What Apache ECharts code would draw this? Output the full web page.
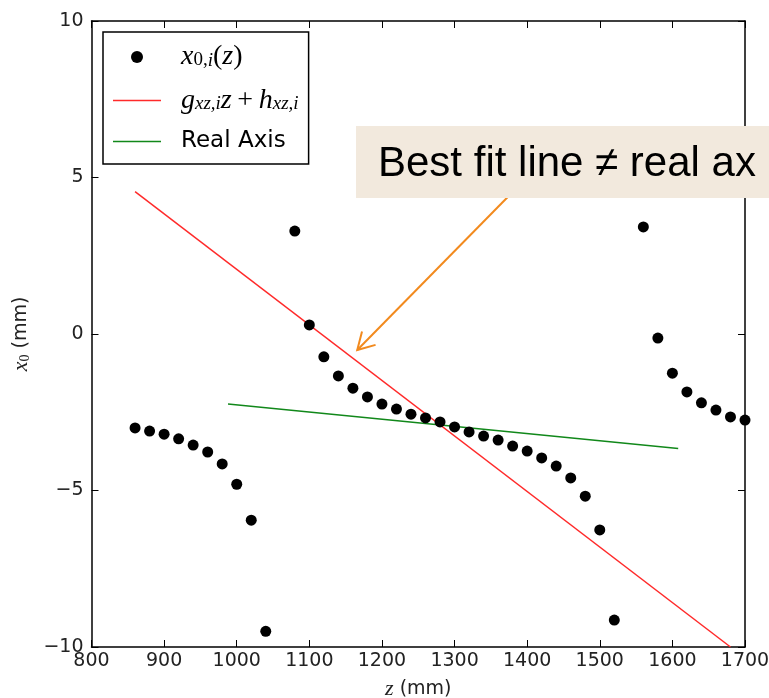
<!DOCTYPE html>
<html>
<head>
<meta charset="utf-8">
<script src="https://cdn.jsdelivr.net/npm/echarts@6/dist/echarts.min.js"></script>
<style>
html, body { margin: 0; padding: 0; background: #fff; }
#chart { width: 769px; height: 698px; }
</style>
</head>
<body>
<div id="chart"></div>
<script>
// x0,i(z) measured points
const zPoints = [860, 880, 900, 920, 940, 960, 980, 1000, 1020, 1040,
    1080, 1100, 1120, 1140, 1160, 1180, 1200, 1220, 1240, 1260, 1280, 1300,
    1320, 1340, 1360, 1380, 1400, 1420, 1440, 1460, 1480, 1500, 1520,
    1560, 1580, 1600, 1620, 1640, 1660, 1680, 1700];
const x0Points = [-3.0, -3.1, -3.2, -3.35, -3.55, -3.77, -4.15, -4.8, -5.95, -9.5,
    3.29, 0.29, -0.73, -1.34, -1.73, -2.01, -2.24, -2.4, -2.56, -2.68, -2.81, -2.97,
    -3.13, -3.26, -3.39, -3.58, -3.74, -3.96, -4.22, -4.6, -5.18, -6.26, -9.14,
    3.42, -0.13, -1.25, -1.85, -2.2, -2.43, -2.65, -2.75];

// best fit line g*z + h
const fitZ = [860, 1680];
const fitX0 = [4.55, -10.0];

// real axis
const realZ = [988, 1608];
const realX0 = [-2.24, -3.66];

// axis ranges
const zTicks = [800, 1700, 100];
const x0Ticks = [-10, 10, 5];

// annotation
const noteText = 'Best fit line \u2260 real ax';
const arrowFrom = [1376, 4.44];
const arrowTo = [1166, -0.51];

const zip = (a, b) => a.map((v, i) => [v, b[i]]);
const minus = v => String(v).replace('-', '\u2212');

const mathRich = {
    gap: { width: 15 },
    m: { fontFamily: 'Liberation Serif', fontStyle: 'italic', fontSize: 28, lineHeight: 26, color: '#000' },
    r: { fontFamily: 'Liberation Serif', fontSize: 28, lineHeight: 26, color: '#000' },
    s: { fontFamily: 'Liberation Serif', fontSize: 19, lineHeight: 8, verticalAlign: 'bottom', color: '#000' },
    si: { fontFamily: 'Liberation Serif', fontStyle: 'italic', fontSize: 19, lineHeight: 8, verticalAlign: 'bottom', color: '#000' },
    t: { fontFamily: 'DejaVu Sans', fontSize: 23, lineHeight: 26, color: '#000' }
};

const legendText = {
    pts: '{gap|}{m|x}{s|0,}{si|i}{r|(}{m|z}{r|)}',
    fit: '{gap|}{m|g}{si|xz,i}{m|z}{r|\u2009+\u2009}{m|h}{si|xz,i}',
    real: '{gap|}{t|Real Axis}'
};
const lineIcon = 'path://M0,0L32,0L32,1L0,1Z';

const axisCommon = {
    type: 'value',
    axisLine: { show: true, onZero: false, lineStyle: { color: '#000', width: 1.5 } },
    axisTick: { show: true, inside: true, length: 7, lineStyle: { color: '#000', width: 1 } },
    splitLine: { show: false }
};

const chart = echarts.init(document.getElementById('chart'));

chart.setOption({
    animation: false,
    grid: { left: 91.5, right: 24, top: 21, bottom: 51, containLabel: false, outerBoundsMode: 'none' },
    xAxis: [
        Object.assign({}, axisCommon, {
            position: 'bottom',
            min: zTicks[0], max: zTicks[1], interval: zTicks[2],
            name: '{i|z} (mm)',
            nameLocation: 'middle',
            nameGap: 31,
            nameTextStyle: {
                fontFamily: 'DejaVu Sans', fontSize: 19, color: '#222',
                rich: { i: { fontFamily: 'Liberation Serif', fontStyle: 'italic', fontSize: 22, color: '#222' } }
            },
            axisLabel: { margin: 5, fontFamily: 'DejaVu Sans', fontSize: 19, color: '#222', formatter: v => String(v) }
        }),
        Object.assign({}, axisCommon, {
            position: 'top',
            min: zTicks[0], max: zTicks[1], interval: zTicks[2],
            axisLabel: { show: false }
        })
    ],
    yAxis: [
        Object.assign({}, axisCommon, {
            position: 'left',
            min: x0Ticks[0], max: x0Ticks[1], interval: x0Ticks[2],
            name: '{i|x}{s|0} (mm)',
            nameLocation: 'middle',
            nameRotate: 90,
            nameGap: 59,
            nameTextStyle: {
                fontFamily: 'DejaVu Sans', fontSize: 19, color: '#222', lineHeight: 22,
                rich: {
                    i: { fontFamily: 'Liberation Serif', fontStyle: 'italic', fontSize: 22, lineHeight: 22, color: '#222' },
                    s: { fontFamily: 'Liberation Serif', fontSize: 14, lineHeight: 6, verticalAlign: 'bottom', color: '#222' }
                }
            },
            axisLabel: { margin: 8, fontFamily: 'DejaVu Sans', fontSize: 19, color: '#222', formatter: minus }
        }),
        Object.assign({}, axisCommon, {
            position: 'right',
            min: x0Ticks[0], max: x0Ticks[1], interval: x0Ticks[2],
            axisLabel: { show: false }
        })
    ],
    legend: {
        orient: 'vertical',
        left: 103,
        top: 32,
        padding: [11, 10, 11, 10],
        itemGap: 15.5,
        itemWidth: 48,
        itemHeight: 12,
        borderColor: '#000',
        borderWidth: 1.5,
        backgroundColor: '#fff',
        textStyle: { fontFamily: 'DejaVu Sans', fontSize: 23, color: '#000', rich: mathRich },
        formatter: name => legendText[name],
        data: [
            { name: 'pts', icon: 'circle' },
            { name: 'fit', icon: lineIcon },
            { name: 'real', icon: lineIcon }
        ]
    },
    series: [
        {
            name: 'pts',
            type: 'scatter',
            symbol: 'circle',
            symbolSize: 11,
            itemStyle: { color: '#000', opacity: 1 },
            data: zip(zPoints, x0Points),
            z: 3
        },
        {
            name: 'fit',
            type: 'line',
            symbol: 'none',
            lineStyle: { color: '#ff2a2a', width: 1.5 },
            itemStyle: { color: '#ff2a2a' },
            data: zip(fitZ, fitX0),
            z: 2
        },
        {
            name: 'real',
            type: 'line',
            symbol: 'none',
            lineStyle: { color: '#11881a', width: 1.5 },
            itemStyle: { color: '#11881a' },
            data: zip(realZ, realX0),
            z: 2
        }
    ]
});

// annotation box and arrow
const p0 = chart.convertToPixel({ xAxisIndex: 0, yAxisIndex: 0 }, arrowFrom);
const p1 = chart.convertToPixel({ xAxisIndex: 0, yAxisIndex: 0 }, arrowTo);
const ang = Math.atan2(p0[1] - p1[1], p0[0] - p1[0]);
const headLen = 19;
const headAng = Math.PI / 6;
const arm1 = [p1[0] + headLen * Math.cos(ang + headAng), p1[1] + headLen * Math.sin(ang + headAng)];
const arm2 = [p1[0] + headLen * Math.cos(ang - headAng), p1[1] + headLen * Math.sin(ang - headAng)];

chart.setOption({
    graphic: [
        {
            type: 'polyline',
            z: 90,
            shape: { points: [p0, p1] },
            style: { stroke: '#f28a1e', lineWidth: 2, fill: null }
        },
        {
            type: 'polyline',
            z: 90,
            shape: { points: [arm1, p1, arm2] },
            style: { stroke: '#f28a1e', lineWidth: 2, fill: null }
        },
        {
            type: 'rect',
            z: 100,
            shape: { x: 356, y: 126, width: 440, height: 72 },
            style: { fill: '#f2e9dd' }
        },
        {
            type: 'text',
            z: 101,
            x: 378,
            y: 164,
            style: {
                text: noteText,
                font: '42px "Liberation Sans", Arial, sans-serif',
                fill: '#000',
                verticalAlign: 'middle'
            }
        }
    ]
});
</script>
</body>
</html>
